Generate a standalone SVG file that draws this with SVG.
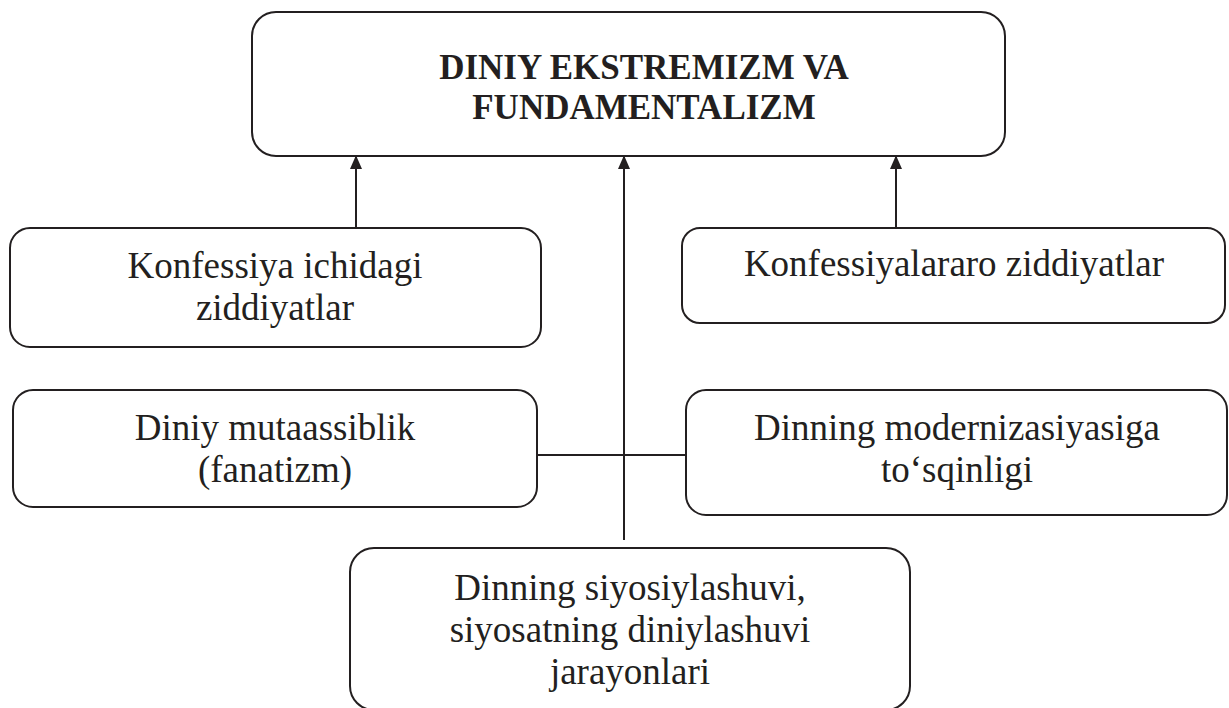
<svg xmlns="http://www.w3.org/2000/svg" width="1229" height="708" viewBox="0 0 1229 708">
<style>
.box{fill:#fff;stroke:#231f20;stroke-width:2}
.t{font-family:"Liberation Serif","Times New Roman",serif;font-size:37px;fill:#231f20;text-anchor:middle}
.b{font-weight:bold;font-size:35px}
.ln{stroke:#231f20;stroke-width:2;fill:none}
</style>
<defs>
<marker id="ah" markerWidth="14" markerHeight="16" refX="14" refY="7" orient="auto" markerUnits="userSpaceOnUse" viewBox="0 0 16 14">
<path d="M0,0 L16,7 L0,14 Z" fill="#231f20"/>
</marker>
</defs>
<g id="connectors">
<line class="ln" x1="356" y1="228" x2="356" y2="157" marker-end="url(#ah)"/>
<line class="ln" x1="896" y1="228" x2="896" y2="157" marker-end="url(#ah)"/>
<line class="ln" x1="624" y1="540" x2="624" y2="157" marker-end="url(#ah)"/>
<line class="ln" x1="537" y1="455" x2="689" y2="455" stroke-width="1.5"/>
</g>
<g id="n-main">
<rect class="box" x="252" y="12" width="753" height="144" rx="24"/>
<text class="t b" x="644" y="79">DINIY EKSTREMIZM VA</text>
<text class="t b" x="644" y="119">FUNDAMENTALIZM</text>
</g>
<g id="n-ichki">
<rect class="box" x="10" y="228" width="531" height="119" rx="20"/>
<text class="t" x="275" y="278">Konfessiya ichidagi</text>
<text class="t" x="275" y="320">ziddiyatlar</text>
</g>
<g id="n-aro">
<rect class="box" x="682" y="228" width="543" height="95" rx="18"/>
<text class="t" x="954" y="276">Konfessiyalararo ziddiyatlar</text>
</g>
<g id="n-fanatizm">
<rect class="box" x="13" y="390" width="524" height="117" rx="20"/>
<text class="t" x="275" y="440">Diniy mutaassiblik</text>
<text class="t" x="275" y="482">(fanatizm)</text>
</g>
<g id="n-modern">
<rect class="box" x="686" y="390" width="541" height="125" rx="20"/>
<text class="t" x="957" y="440">Dinning modernizasiyasiga</text>
<text class="t" x="957" y="482">to‘sqinligi</text>
</g>
<g id="n-siyosat">
<rect class="box" x="350" y="548" width="560" height="162" rx="24"/>
<text class="t" x="630" y="600">Dinning siyosiylashuvi,</text>
<text class="t" x="630" y="642">siyosatning diniylashuvi</text>
<text class="t" x="630" y="684">jarayonlari</text>
</g>
</svg>
